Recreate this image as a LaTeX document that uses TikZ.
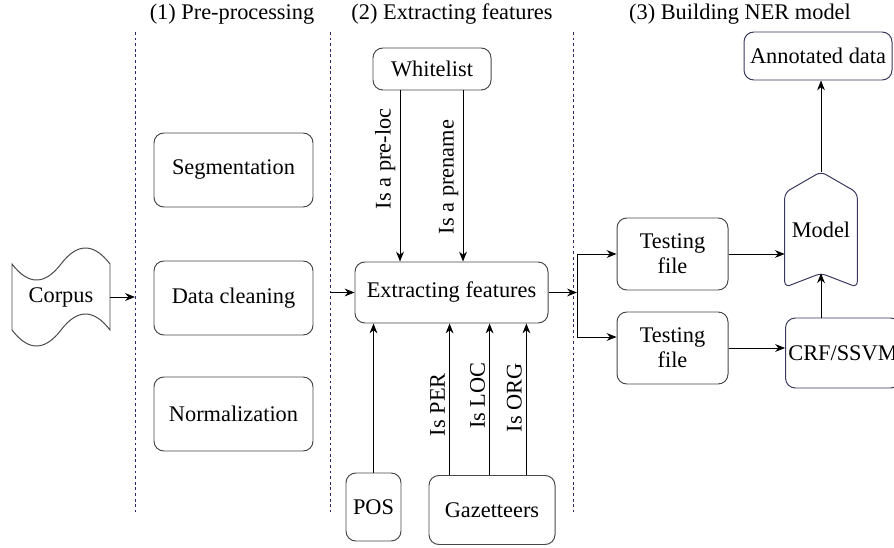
\documentclass[tikz,border=0pt]{standalone}
\usepackage{fontspec}
\setmainfont{Liberation Serif}
\usetikzlibrary{arrows.meta, positioning, calc}
\colorlet{cBorder}{black!72}
\definecolor{cNavy}{RGB}{40,40,110}
\definecolor{cSlate}{RGB}{55,55,95}

\begin{document}
\begin{tikzpicture}[
    font=\fontsize{15.9}{18}\selectfont,
    procbox/.style={draw=cBorder, line width=0.7pt, rounded corners=7pt, align=center, inner sep=2pt},
    bluebox/.style={procbox, draw=cSlate},
    sepline/.style={draw=cNavy, line width=0.6pt, dash pattern=on 2pt off 2pt},
    arr/.style={line width=0.6pt, -{Stealth[length=7pt,width=5.5pt]}},
    lbl/.style={rotate=90, above, inner sep=3pt}
  ]
  \useasboundingbox (0,0) rectangle (22.35,13.675);
  \clip (0,0) rectangle (22.35,13.675);

  % Titulos das fases
  \node (t1) at (5.8,13.325) {(1) Pre-processing};
  \node (t2) at (11.3,13.325) {(2) Extracting features};
  \node (t3) at (18.5,13.325) {(3) Building NER model};

  % Separadores
  \draw[sepline] (3.375,12.875) -- (3.375,0.875);
  \draw[sepline] (8.25,12.875) -- (8.25,0.875);
  \draw[sepline] (14.325,12.875) -- (14.325,0.875);
  \coordinate (sep1) at (3.375,6.25);
  \coordinate (sep2) at (8.25,6.3625);
  \coordinate (split) at (14.425,6.3625);

  % Corpus (fita)
  \node[minimum width=2.45cm, minimum height=1.65cm, inner sep=0pt] (corpus) at (1.525,6.25) {Corpus};
  \draw[cBorder, line width=0.7pt] (0.3,7.075)
    .. controls (0.708,6.542) and (1.117,6.542) .. (1.525,7.075)
    .. controls (1.933,7.608) and (2.342,7.608) .. (2.75,7.075)
    -- (2.75,5.425)
    .. controls (2.342,5.958) and (1.933,5.958) .. (1.525,5.425)
    .. controls (1.117,4.892) and (0.708,4.892) .. (0.3,5.425)
    -- cycle;
  \draw[arr] (corpus.east) -- (sep1);

  % Fase 1
  \node[procbox, minimum width=3.975cm, minimum height=1.85cm] (seg) at (5.8375,9.425) {Segmentation};
  \node[procbox, minimum width=3.975cm, minimum height=1.85cm] (clean) at (5.8375,6.225) {Data cleaning};
  \node[procbox, minimum width=3.975cm, minimum height=1.85cm] (norm) at (5.8375,3.325) {Normalization};

  % Fase 2
  \node[procbox, minimum width=4.825cm, minimum height=1.525cm] (extract) at (11.2875,6.3625) {Extracting features};
  \node[procbox, minimum width=2.95cm, minimum height=1.05cm] (white) at (10.8,11.95) {Whitelist};
  \node[procbox, minimum width=1.375cm, minimum height=1.7cm] (pos) at (9.3375,1.0) {POS};
  \node[procbox, minimum width=3.15cm, minimum height=1.725cm] (gaz) at (12.3,0.925) {Gazetteers};
  \draw[arr] (sep2) -- (extract.west);
  \draw[arr] (10.0,0 |- white.south) -- node[lbl, pos=0.4] {Is a pre-loc} (10.0,0 |- extract.north);
  \draw[arr] (11.575,0 |- white.south) -- node[lbl, pos=0.506] {Is a prename} (11.575,0 |- extract.north);
  \draw[arr] (pos.north) -- (pos.north |- extract.south);
  \draw[arr] (11.24,0 |- gaz.north) -- node[lbl, pos=0.464] {Is PER} (11.24,0 |- extract.south);
  \draw[arr] (12.24,0 |- gaz.north) -- node[lbl, pos=0.523] {Is LOC} (12.24,0 |- extract.south);
  \draw[arr] (13.16,0 |- gaz.north) -- node[lbl, pos=0.51] {Is ORG} (13.16,0 |- extract.south);
  \draw[arr] (extract.east) -- (split);

  % Fase 3
  \node[procbox, minimum width=2.775cm, minimum height=1.8cm] (test1) at (16.8125,7.325) {Testing\\file};
  \node[procbox, minimum width=2.775cm, minimum height=1.8cm] (test2) at (16.8125,4.975) {Testing\\file};
  \node[minimum width=1.8cm, minimum height=2.875cm, inner sep=0pt] (model) at (20.525,7.9375) {Model};
  \draw[cSlate, line width=0.7pt, rounded corners=4pt] (model.north)
    -- ([yshift=-0.525cm]model.north east) -- (model.south east)
    -- ([yshift=0.35cm]model.south) -- (model.south west)
    -- ([yshift=-0.525cm]model.north west) -- cycle;
  \node[bluebox, minimum width=3.7cm, minimum height=1.2cm] (annot) at (20.45,12.275) {Annotated data};
  \node[bluebox, minimum width=2.85cm, minimum height=1.75cm] (crf) at (21.075,4.85) {CRF/SSVM};
  \draw[line width=0.6pt] (split |- test1.west) -- (split |- 0,5.25);
  \draw[arr] (split |- test1.west) -- (test1.west);
  \draw[arr] (split |- 0,5.25) -- (test2.west |- 0,5.25);
  \draw[arr] (test1.east) -- (test1.east -| model.west);
  \draw[arr] (test2.east) -- (test2.east -| crf.west);
  \draw[arr] (model.south |- crf.north) -- ([yshift=0.35cm]model.south);
  \draw[arr] (model.north) -- (model.north |- annot.south);
\end{tikzpicture}
\end{document}
